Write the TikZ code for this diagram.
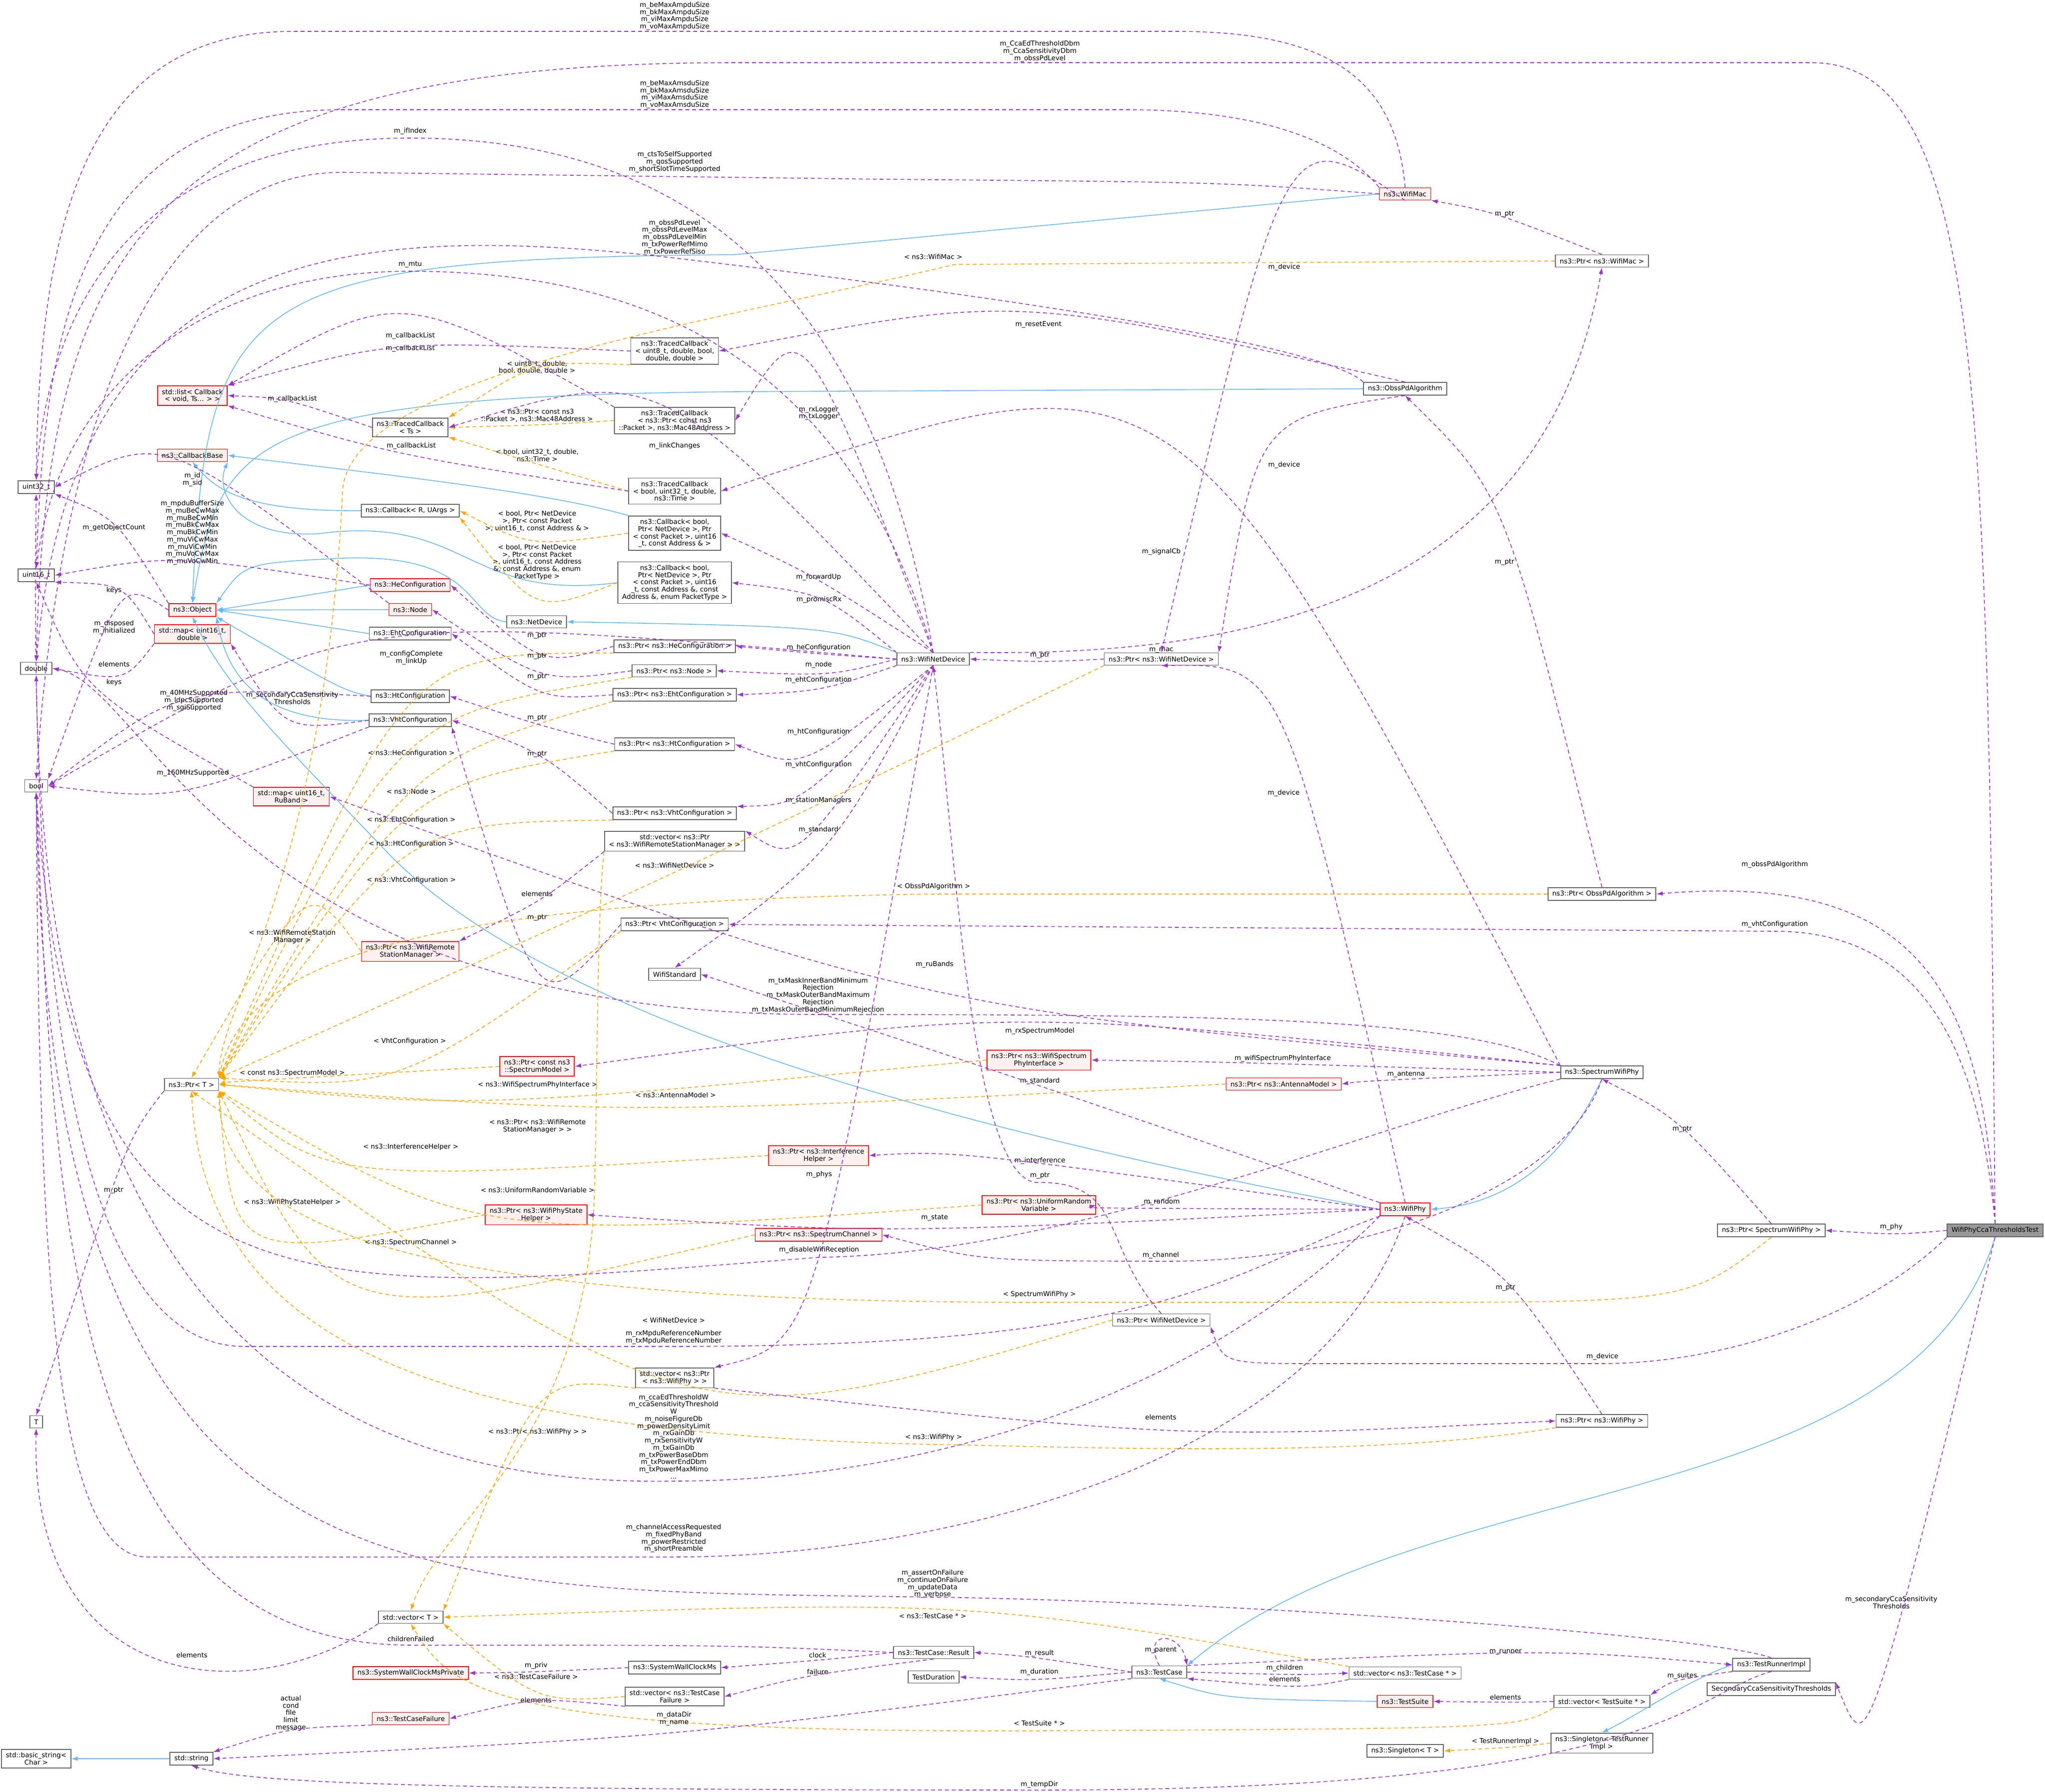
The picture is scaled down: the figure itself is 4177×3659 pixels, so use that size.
\documentclass[tikz,border=0pt]{standalone}
\usepackage{fontspec}
\setmainfont{DejaVu Sans}
\usetikzlibrary{arrows.meta,calc}
\definecolor{mem}{HTML}{9A32CD}
\definecolor{inh}{HTML}{63B8FF}
\definecolor{tpl}{HTML}{FFA500}
\definecolor{bord}{HTML}{666666}
\tikzset{
 box/.style={draw=bord,fill=white,line width=0.5pt,inner xsep=2.5pt,inner ysep=1.8pt,align=center,font=\fontsize{3.9}{4.2}\selectfont,minimum height=0.25cm},
 rbox/.style={box,draw=red,fill=red!6},
 mainbox/.style={box,fill=black!40},
 lbl/.style={font=\fontsize{3.9}{4.2}\selectfont,align=center,inner sep=0pt},
 tip/.style={-{Latex[length=0.13cm,width=0.09cm]}},
 memE/.style={tip,draw=mem,line width=0.45pt,dash pattern=on 2.3pt off 1.7pt},
 tplE/.style={tip,draw=tpl,line width=0.45pt,dash pattern=on 2.3pt off 1.7pt},
 inhE/.style={tip,draw=inh,line width=0.45pt},
}
\newcommand\myedge[6]{%
 \node[lbl] (L) at (#4,#5) {#6};
 \coordinate (M) at ($(L.south)+(0cm,-0.04cm)$);
 \draw[#1] (#2) .. controls ($2*(M)-0.5*(#2)-0.5*(#3)$) .. (#3);
}
\begin{document}
\begin{tikzpicture}[x=0.01cm,y=-0.01cm]
\useasboundingbox (0,0) rectangle (4177,3659);
% nodes
\node[rbox] (list) at (393,808) {std::list< Callback\\< void, Ts... > >};
\node[box] (tcTs) at (838,873) {ns3::TracedCallback\\< Ts >};
\node[box] (tcU8) at (1378,717) {ns3::TracedCallback\\< uint8\_t, double, bool,\\double, double >};
\node[box] (tcPk) at (1378,859) {ns3::TracedCallback\\< ns3::Ptr< const ns3\\::Packet >, ns3::Mac48Address >};
\node[rbox] (cbb) at (393,930) {ns3::CallbackBase};
\node[box] (u32) at (74,995) {uint32\_t};
\node[box] (tcB) at (1378,1003) {ns3::TracedCallback\\< bool, uint32\_t, double,\\ns3::Time >};
\node[box] (cbR) at (838,1043) {ns3::Callback< R, UArgs >};
\node[box] (cb4) at (1378,1089) {ns3::Callback< bool,\\ Ptr< NetDevice >, Ptr\\< const Packet >, uint16\\\_t, const Address \& >};
\node[box] (cb5) at (1378,1190) {ns3::Callback< bool,\\ Ptr< NetDevice >, Ptr\\< const Packet >, uint16\\\_t, const Address \&, const\\ Address \&, enum PacketType >};
\node[box] (u16) at (74,1175) {uint16\_t};
\node[rbox] (heC) at (838,1195) {ns3::HeConfiguration};
\node[rbox] (obj) at (393,1246) {ns3::Object};
\node[rbox] (node) at (838,1245) {ns3::Node};
\node[box] (netdev) at (1096,1270) {ns3::NetDevice};
\node[rbox] (mapD) at (393,1295) {std::map< uint16\_t,\\double >};
\node[box] (ehtC) at (838,1294) {ns3::EhtConfiguration};
\node[box] (dbl) at (74,1365) {double};
\node[box] (pHe) at (1378,1320) {ns3::Ptr< ns3::HeConfiguration >};
\node[box] (pNode) at (1377,1370) {ns3::Ptr< ns3::Node >};
\node[box] (pEht) at (1378,1419) {ns3::Ptr< ns3::EhtConfiguration >};
\node[box] (htC) at (838,1422) {ns3::HtConfiguration};
\node[box] (vhtC) at (838,1471) {ns3::VhtConfiguration};
\node[box] (pHt) at (1378,1520) {ns3::Ptr< ns3::HtConfiguration >};
\node[box] (bool) at (74,1605) {bool};
\node[rbox] (mapR) at (595,1627) {std::map< uint16\_t,\\RuBand >};
\node[box] (pVht) at (1378,1661) {ns3::Ptr< ns3::VhtConfiguration >};
\node[box] (vecRSM) at (1378,1718) {std::vector< ns3::Ptr\\< ns3::WifiRemoteStationManager > >};
\node[box] (pVhtC) at (1378,1888) {ns3::Ptr< VhtConfiguration >};
\node[rbox] (pRSM) at (838,1943) {ns3::Ptr< ns3::WifiRemote\\StationManager >};
\node[box] (wstd) at (1378,1990) {WifiStandard};
\node[rbox] (pSM) at (1097,2178) {ns3::Ptr< const ns3\\::SpectrumModel >};
\node[rbox] (pWSPI) at (2122,2165) {ns3::Ptr< ns3::WifiSpectrum\\PhyInterface >};
\node[rbox] (pAnt) at (2622,2214) {ns3::Ptr< ns3::AntennaModel >};
\node[box] (pT) at (391,2215) {ns3::Ptr< T >};
\node[rbox] (pIH) at (1672,2360) {ns3::Ptr< ns3::Interference\\Helper >};
\node[rbox] (pURV) at (2122,2461) {ns3::Ptr< ns3::UniformRandom\\Variable >};
\node[rbox] (pPSH) at (1095,2481) {ns3::Ptr< ns3::WifiPhyState\\Helper >};
\node[rbox] (pSC) at (1672,2522) {ns3::Ptr< ns3::SpectrumChannel >};
\node[box] (pWND2) at (2372,2696) {ns3::Ptr< WifiNetDevice >};
\node[box] (vecPhy) at (1378,2814) {std::vector< ns3::Ptr\\< ns3::WifiPhy > >};
\node[box] (T) at (74,2904) {T};
\node[box] (wnd) at (1906,1346) {ns3::WifiNetDevice};
\node[box] (pWND) at (2372,1346) {ns3::Ptr< ns3::WifiNetDevice >};
\node[rbox] (wmac) at (2870,396) {ns3::WifiMac};
\node[box] (pMac) at (3272,533) {ns3::Ptr< ns3::WifiMac >};
\node[box] (obss) at (2870,794) {ns3::ObssPdAlgorithm};
\node[box] (pObss) at (3272,1826) {ns3::Ptr< ObssPdAlgorithm >};
\node[box] (swp) at (3272,2190) {ns3::SpectrumWifiPhy};
\node[rbox] (wphy) at (2870,2470) {ns3::WifiPhy};
\node[box] (pSWP) at (3618,2513) {ns3::Ptr< SpectrumWifiPhy >};
\node[mainbox] (test) at (4075,2513) {WifiPhyCcaThresholdsTest};
\node[box] (pPhy) at (3272,2902) {ns3::Ptr< ns3::WifiPhy >};
\node[box] (vecT) at (839,3303) {std::vector< T >};
\node[box] (res) at (1907,3375) {ns3::TestCase::Result};
\node[box] (tc) at (2368,3415) {ns3::TestCase};
\node[box] (swc) at (1378,3406) {ns3::SystemWallClockMs};
\node[rbox] (swcp) at (839,3417) {ns3::SystemWallClockMsPrivate};
\node[box] (tdur) at (1907,3425) {TestDuration};
\node[box] (vecTCF) at (1378,3465) {std::vector< ns3::TestCase\\Failure >};
\node[rbox] (tcf) at (839,3510) {ns3::TestCaseFailure};
\node[box] (str) at (391,3592) {std::string};
\node[box] (bstr) at (74,3592) {std::basic\_string<\\Char >};
\node[box] (vecTC) at (2870,3417) {std::vector< ns3::TestCase * >};
\node[box] (tri) at (3618,3400) {ns3::TestRunnerImpl};
\node[box] (sec) at (3618,3450) {SecondaryCcaSensitivityThresholds};
\node[rbox] (ts) at (2870,3475) {ns3::TestSuite};
\node[box] (vecTS) at (3272,3475) {std::vector< TestSuite * >};
\node[box] (sgl) at (3272,3560) {ns3::Singleton< TestRunner\\Impl >};
\node[box] (sglT) at (2870,3576) {ns3::Singleton< T >};

% ---- inheritance
\draw[inhE] (cbR.west) .. controls (500,1045) and (440,1000) .. (cbb.south);
\draw[inhE] (cb4.north west) .. controls (1100,1000) and (700,960) .. (cbb.east);
\draw[inhE] (cb5.west) .. controls (950,1230) and (960,1050) .. (650,1090) .. controls (480,1100) and (440,1000) .. (cbb.south east);
\draw[inhE] (heC.west) -- (obj.east);
\draw[inhE] (node.west) -- (obj.east);
\draw[inhE] (ehtC.west) -- (obj.east);
\draw[inhE] (htC.west) .. controls (700,1410) .. (obj.south east);
\draw[inhE] (vhtC.west) .. controls (500,1480) and (460,1350) .. (obj.south east);
\draw[inhE] (netdev.west) .. controls (950,1260) and (980,1130) .. (700,1140) .. controls (500,1150) .. (obj.north east);
\draw[inhE] (wmac.west) -- (1500,520) .. controls (500,528) and (420,600) .. (obj.north);
\draw[inhE] (obss.west) -- (1500,800) .. controls (500,810) and (450,900) .. (obj.north);
\draw[inhE] (wphy.west) .. controls (1800,2280) and (1100,2050) .. (800,1750) .. controls (560,1500) and (460,1400) .. (obj.south);
\draw[inhE] (wnd.north west) .. controls (1700,1280) .. (netdev.east);
\draw[inhE] (swp.south) .. controls (3180,2400) and (3050,2460) .. (wphy.east);
\draw[inhE] (test.south) .. controls (3900,3100) and (2900,3000) .. (tc.north east);
\draw[inhE] (ts.west) .. controls (2500,3470) .. (tc.south);
\draw[inhE] (tri.west) .. controls (3450,3430) and (3350,3500) .. (sgl.north);
\draw[inhE] (str.west) -- (bstr.east);

% ---- templates
\myedge{tplE}{tcU8.south west}{tcTs.north east}{1097}{750}{< uint8\_t, double,\\bool, double, double >}
\myedge{tplE}{tcPk.west}{tcTs.east}{1097}{849}{< ns3::Ptr< const ns3\\::Packet >, ns3::Mac48Address >}
\myedge{tplE}{tcB.west}{tcTs.south east}{1097}{930}{< bool, uint32\_t, double,\\ns3::Time >}
\myedge{tplE}{cb4.west}{cbR.east}{1097}{1065}{< bool, Ptr< NetDevice\\>, Ptr< const Packet\\>, uint16\_t, const Address \& >}
\myedge{tplE}{cb5.west}{cbR.south east}{1097}{1148}{< bool, Ptr< NetDevice\\>, Ptr< const Packet\\>, uint16\_t, const Address\\\&, const Address \&, enum\\PacketType >}
\myedge{tplE}{pHe.south west}{pT.north east}{840}{1539}{< ns3::HeConfiguration >}
\myedge{tplE}{pNode.south west}{pT.north east}{840}{1616}{< ns3::Node >}
\myedge{tplE}{pEht.south west}{pT.north east}{840}{1675}{< ns3::EhtConfiguration >}
\myedge{tplE}{pHt.south west}{pT.north east}{840}{1724}{< ns3::HtConfiguration >}
\myedge{tplE}{pVht.south west}{pT.north east}{840}{1798}{< ns3::VhtConfiguration >}
\myedge{tplE}{pWND.south west}{pT.north east}{1378}{1767}{< ns3::WifiNetDevice >}
\myedge{tplE}{pVhtC.south west}{pT.north east}{837}{2127}{< VhtConfiguration >}
\myedge{tplE}{pRSM.west}{pT.north}{597}{1913}{< ns3::WifiRemoteStation\\Manager >}
\myedge{tplE}{pSM.west}{pT.east}{597}{2192}{< const ns3::SpectrumModel >}
\myedge{tplE}{pWSPI.west}{pT.east}{1098}{2216}{< ns3::WifiSpectrumPhyInterface >}
\myedge{tplE}{pAnt.west}{pT.east}{1380}{2236}{< ns3::AntennaModel >}
\myedge{tplE}{pIH.west}{pT.south east}{839}{2343}{< ns3::InterferenceHelper >}
\myedge{tplE}{pURV.west}{pT.south east}{1098}{2430}{< ns3::UniformRandomVariable >}
\myedge{tplE}{pPSH.west}{pT.south east}{597}{2456}{< ns3::WifiPhyStateHelper >}
\myedge{tplE}{pSC.west}{pT.south east}{839}{2538}{< ns3::SpectrumChannel >}
\myedge{tplE}{pWND2.west}{pT.south}{1376}{2696}{< WifiNetDevice >}
\node[lbl] at (1906,524) {< ns3::WifiMac >};
\draw[tplE] (pMac.west) -- (1950,540) .. controls (1500,650) and (720,760) .. (700,1000) .. controls (660,1800) and (450,2050) .. (pT.north east);
\node[lbl] at (1907,1811) {< ObssPdAlgorithm >};
\draw[tplE] (pObss.west) -- (1907,1826) .. controls (900,1840) and (500,1950) .. (pT.north east);
\node[lbl] at (2123,2644) {< SpectrumWifiPhy >};
\draw[tplE] (pSWP.south) .. controls (3450,2660) .. (2800,2660) -- (2123,2660) .. controls (800,2660) and (450,2500) .. (pT.south east);
\node[lbl] at (1907,2936) {< ns3::WifiPhy >};
\draw[tplE] (pPhy.south west) .. controls (2800,2980) and (2200,2955) .. (1907,2950) .. controls (900,2930) and (420,2750) .. (pT.south);
\myedge{tplE}{vecPhy.south west}{vecT.north east}{1098}{2925}{< ns3::Ptr< ns3::WifiPhy > >}
\node[lbl] at (1098,2300) {< ns3::Ptr< ns3::WifiRemote\\StationManager > >};
\draw[tplE] (vecRSM.south west) .. controls (1220,1850) and (1220,2200) .. (1215,2400) .. controls (1210,2950) and (900,3100) .. (vecT.north);
\myedge{tplE}{vecTC.north west}{vecT.east}{1905}{3300}{< ns3::TestCase * >}
\myedge{tplE}{vecTCF.west}{vecT.south east}{1095}{3424}{< ns3::TestCaseFailure >}
\node[lbl] at (2123,3519) {< TestSuite * >};
\draw[tplE] (vecTS.south west) .. controls (3100,3530) .. (2123,3535) .. controls (1000,3540) and (920,3450) .. (vecT.south);
\myedge{tplE}{sgl.west}{sglT.east}{3075}{3557}{< TestRunnerImpl >}

% ---- members: long routes
\node[lbl] at (2124,105) {m\_CcaEdThresholdDbm\\m\_CcaSensitivityDbm\\m\_obssPdLevel};
\draw[memE] (test.north) .. controls (4060,800) and (4050,128) .. (3700,128) -- (1500,128) .. controls (300,128) and (95,500) .. (dbl.north);
\node[lbl] at (1378,33) {m\_beMaxAmpduSize\\m\_bkMaxAmpduSize\\m\_viMaxAmpduSize\\m\_voMaxAmpduSize};
\draw[memE] (wmac.north) .. controls (2850,150) and (2700,64) .. (2400,64) -- (600,64) .. controls (200,64) and (80,400) .. (u32.north);
\node[lbl] at (1378,193) {m\_beMaxAmsduSize\\m\_bkMaxAmsduSize\\m\_viMaxAmsduSize\\m\_voMaxAmsduSize};
\draw[memE] (wmac.north west) .. controls (2750,300) and (2600,224) .. (2300,224) -- (700,224) .. controls (150,224) and (90,700) .. (u16.north);
\node[lbl] at (1378,331) {m\_ctsToSelfSupported\\m\_qosSupported\\m\_shortSlotTimeSupported};
\draw[memE] (wmac.west) .. controls (2500,372) .. (1800,366) -- (700,352) .. controls (200,350) and (100,1200) .. (bool.north);
\node[lbl] at (1378,485) {m\_obssPdLevel\\m\_obssPdLevelMax\\m\_obssPdLevelMin\\m\_txPowerRefMimo\\m\_txPowerRefSiso};
\draw[memE] (obss.north west) .. controls (2700,700) and (2000,600) .. (1378,527) .. controls (700,450) and (150,500) .. (dbl.north);
\node[lbl] at (838,268) {m\_ifIndex};
\draw[memE] (wnd.north) .. controls (1800,700) and (1500,282) .. (838,282) .. controls (300,282) and (100,600) .. (u32.north);
\node[lbl] at (838,540) {m\_mtu};
\draw[memE] (wnd.north) .. controls (1750,800) and (1400,554) .. (838,554) .. controls (400,554) and (120,800) .. (u16.north);
\node[lbl] at (2372,1328) {m\_mac};
\draw[memE] (wnd.north east) .. controls (2500,1340) and (3150,1250) .. (pMac.south);
\node[lbl] at (3625,1766) {m\_obssPdAlgorithm};
\draw[memE] (test.north) .. controls (4050,2000) and (3900,1782) .. (pObss.east);
\node[lbl] at (3625,1888) {m\_vhtConfiguration};
\draw[memE] (test.north) .. controls (4040,2100) and (3900,1902) .. (3625,1902) -- (pVhtC.east);
\node[lbl] at (3273,2771) {m\_device};
\draw[memE] (test.south west) .. controls (3800,2700) and (3500,2785) .. (3273,2785) -- (2700,2785) .. controls (2500,2785) .. (pWND2.south east);
\node[lbl] at (1376,2934) {m\_ccaEdThresholdW\\m\_ccaSensitivityThreshold\\W\\m\_noiseFigureDb\\m\_powerDensityLimit\\m\_rxGainDb\\m\_rxSensitivityW\\m\_txGainDb\\m\_txPowerBaseDbm\\m\_txPowerEndDbm\\m\_txPowerMaxMimo\\...};
\draw[memE] (wphy.south west) .. controls (2400,2900) and (1800,3025) .. (1376,3025) .. controls (500,3040) and (90,2500) .. (dbl.south);
\node[lbl] at (1376,3142) {m\_channelAccessRequested\\m\_fixedPhyBand\\m\_powerRestricted\\m\_shortPreamble};
\draw[memE] (wphy.south) .. controls (2700,3000) and (1900,3180) .. (1376,3180) -- (300,3180) .. controls (100,3180) and (80,2500) .. (bool.south);
\node[lbl] at (1376,2731) {m\_rxMpduReferenceNumber\\m\_txMpduReferenceNumber};
\draw[memE] (wphy.south west) .. controls (2500,2600) and (2400,2750) .. (1376,2750) -- (500,2750) .. controls (150,2750) and (60,2000) .. (u32.south);
\node[lbl] at (1673,2553) {m\_disableWifiReception};
\draw[memE] (swp.south west) .. controls (2800,2300) and (2200,2560) .. (1673,2568) .. controls (600,2650) and (150,2720) .. (bool.south);
\node[lbl] at (1671,2033) {m\_txMaskInnerBandMinimum\\Rejection\\m\_txMaskOuterBandMaximum\\Rejection\\m\_txMaskOuterBandMinimumRejection};
\draw[memE] (swp.north west) .. controls (3000,2078) and (2500,2072) .. (1671,2072) .. controls (480,2072) and (300,1400) .. (dbl.east);
\node[lbl] at (2371,2564) {m\_channel};
\draw[memE] (swp.south) .. controls (3200,2420) and (2800,2578) .. (2371,2576) .. controls (2000,2575) .. (pSC.east);
\node[lbl] at (2124,2401) {m\_ptr};
\draw[memE] (pWND2.north) .. controls (2250,2550) and (2300,2415) .. (2124,2415) .. controls (1980,2430) and (1950,1700) .. (wnd.south);
\node[lbl] at (1905,3235) {m\_assertOnFailure\\m\_continueOnFailure\\m\_updateData\\m\_verbose};
\draw[memE] (tri.north) .. controls (3500,3340) and (2500,3270) .. (1905,3262) .. controls (800,3245) and (100,3300) .. (bool.south);
\node[lbl] at (839,3347) {childrenFailed};
\draw[memE] (res.west) .. controls (1500,3360) .. (839,3360) .. controls (150,3360) and (110,2500) .. (bool.south);
\node[lbl] at (2123,3645) {m\_tempDir};
\draw[memE] (tri.south) .. controls (3450,3460) and (3400,3656) .. (2123,3656) .. controls (800,3656) and (500,3640) .. (str.south);
\node[lbl] at (392,3380) {elements};
\draw[memE] (vecT.south west) .. controls (500,3500) and (60,3450) .. (T.south);
\node[lbl] at (2371,3370) {m\_parent};
\draw[memE] (tc.north) .. controls (2330,3330) and (2410,3330) .. (tc.north east);

% ---- members: simple
\myedge{memE}{test.west}{pSWP.east}{3863}{2506}{m\_phy}
\myedge{memE}{test.south}{sec.north east}{3863}{3273}{m\_secondaryCcaSensitivity\\Thresholds}
\myedge{memE}{pSWP.north}{swp.south}{3436}{2306}{m\_ptr}
\myedge{memE}{pObss.north}{obss.south}{3073}{1148}{m\_ptr}
\myedge{memE}{pMac.north}{wmac.south east}{3073}{437}{m\_ptr}
\myedge{memE}{pWND.west}{wnd.east}{2124}{1338}{m\_ptr}
\myedge{memE}{pPhy.north}{wphy.south}{3075}{2630}{m\_ptr}
\myedge{memE}{pVhtC.west}{vhtC.south east}{1097}{1874}{m\_ptr}
\myedge{memE}{pHe.west}{heC.east}{1097}{1298}{m\_ptr}
\myedge{memE}{pNode.west}{node.east}{1097}{1340}{m\_ptr}
\myedge{memE}{pEht.west}{ehtC.east}{1097}{1382}{m\_ptr}
\myedge{memE}{pHt.west}{htC.east}{1097}{1466}{m\_ptr}
\myedge{memE}{pVht.west}{vhtC.east}{1097}{1540}{m\_ptr}
\myedge{memE}{pT.south west}{T.north}{232}{2431}{m\_ptr}
\myedge{memE}{wmac.south}{pWND.north}{2623}{546}{m\_device}
\myedge{memE}{obss.south}{pWND.north east}{2623}{950}{m\_device}
\myedge{memE}{wphy.north}{pWND.south}{2622}{1620}{m\_device}
\myedge{memE}{obss.north}{tcU8.east}{2121}{663}{m\_resetEvent}
\myedge{memE}{wnd.north}{tcPk.east}{1672}{844}{m\_rxLogger\\m\_txLogger}
\myedge{memE}{wnd.north}{tcTs.east}{1378}{911}{m\_linkChanges}
\myedge{memE}{swp.north west}{tcB.east}{2372}{1127}{m\_signalCb}
\myedge{memE}{wnd.north}{cb4.east}{1672}{1179}{m\_forwardUp}
\myedge{memE}{wnd.north west}{cb5.east}{1673}{1225}{m\_promiscRx}
\myedge{memE}{wnd.west}{pHe.east}{1672}{1323}{m\_heConfiguration}
\myedge{memE}{wnd.west}{pNode.east}{1672}{1358}{m\_node}
\myedge{memE}{wnd.south west}{pEht.east}{1672}{1389}{m\_ehtConfiguration}
\myedge{memE}{wnd.south}{pHt.east}{1672}{1495}{m\_htConfiguration}
\myedge{memE}{wnd.south}{pVht.north east}{1672}{1562}{m\_vhtConfiguration}
\myedge{memE}{wnd.south}{vecRSM.north east}{1672}{1635}{m\_stationManagers}
\myedge{memE}{wnd.south}{wstd.north}{1672}{1695}{m\_standard}
\myedge{memE}{wnd.south}{vecPhy.north east}{1673}{2399}{m\_phys}
\myedge{memE}{wnd.west}{bool.east}{840}{1343}{m\_configComplete\\m\_linkUp}
\myedge{memE}{swp.west}{pWSPI.east}{2620}{2162}{m\_wifiSpectrumPhyInterface}
\myedge{memE}{swp.west}{pAnt.east}{2872}{2194}{m\_antenna}
\myedge{memE}{swp.north west}{pSM.east}{2124}{2106}{m\_rxSpectrumModel}
\myedge{memE}{swp.north west}{mapR.east}{1909}{1970}{m\_ruBands}
\myedge{memE}{wphy.west}{pIH.east}{2124}{2371}{m\_interference}
\myedge{memE}{wphy.west}{pURV.east}{2373}{2455}{m\_random}
\myedge{memE}{wphy.west}{pPSH.east}{1909}{2487}{m\_state}
\myedge{memE}{wphy.north west}{wstd.east}{2124}{2208}{m\_standard}
\myedge{memE}{vecPhy.south east}{pPhy.west}{2371}{2894}{elements}
\myedge{memE}{vecRSM.south west}{pRSM.north east}{1097}{1825}{elements}
\myedge{memE}{tcTs.west}{list.east}{597}{815}{m\_callbackList}
\myedge{memE}{tcU8.west}{list.north east}{838}{712}{m\_callbackList}
\myedge{memE}{tcPk.north west}{list.north east}{838}{686}{m\_callbackList}
\myedge{memE}{tcB.west}{list.south east}{840}{911}{m\_callbackList}
\myedge{memE}{obj.north west}{u32.south east}{233}{1078}{m\_getObjectCount}
\myedge{memE}{obj.west}{bool.north east}{233}{1281}{m\_disposed\\m\_initialized}
\myedge{memE}{node.north west}{u32.east}{393}{979}{m\_id\\m\_sid}
\myedge{memE}{heC.west}{u16.east}{393}{1088}{m\_mpduBufferSize\\m\_muBeCwMax\\m\_muBeCwMin\\m\_muBkCwMax\\m\_muBkCwMin\\m\_muViCwMax\\m\_muViCwMin\\m\_muVoCwMax\\m\_muVoCwMin}
\myedge{memE}{mapD.west}{u16.south east}{233}{1206}{keys}
\myedge{memE}{mapD.south west}{dbl.east}{233}{1356}{elements}
\myedge{memE}{mapR.north west}{u16.south}{233}{1394}{keys}
\myedge{memE}{htC.west}{bool.east}{396}{1431}{m\_40MHzSupported\\m\_ldpcSupported\\m\_sgiSupported}
\myedge{memE}{vhtC.south west}{bool.east}{394}{1579}{m\_160MHzSupported}
\myedge{memE}{vhtC.west}{mapD.south east}{597}{1426}{m\_secondaryCcaSensitivity\\Thresholds}
\myedge{memE}{tc.west}{res.east}{2123}{3377}{m\_result}
\myedge{memE}{tc.west}{tdur.east}{2123}{3415}{m\_duration}
\myedge{memE}{tc.east}{vecTC.west}{2624}{3407}{m\_children}
\myedge{memE}{vecTC.south west}{tc.south east}{2624}{3429}{elements}
\myedge{memE}{tc.north east}{tri.west}{3075}{3374}{m\_runner}
\myedge{memE}{tc.south west}{str.east}{1377}{3510}{m\_dataDir\\m\_name}
\myedge{memE}{res.west}{swc.east}{1670}{3380}{clock}
\myedge{memE}{res.south}{vecTCF.east}{1670}{3414}{failure}
\myedge{memE}{swc.west}{swcp.east}{1095}{3402}{m\_priv}
\myedge{memE}{vecTCF.south west}{tcf.east}{1095}{3472}{elements}
\myedge{memE}{tcf.south west}{str.north east}{594}{3499}{actual\\cond\\file\\limit\\message}
\myedge{memE}{tri.south west}{vecTS.north east}{3436}{3423}{m\_suites}
\myedge{memE}{vecTS.west}{ts.east}{3075}{3466}{elements}
\end{tikzpicture}
\end{document}
